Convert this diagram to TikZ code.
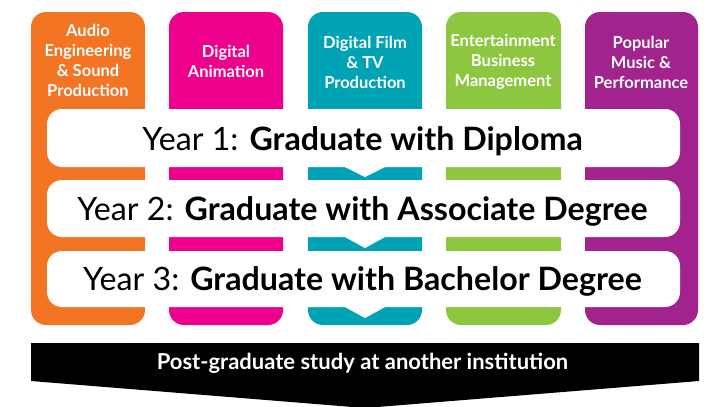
\documentclass[tikz,border=0pt]{standalone}
\usepackage{fontspec}
\setmainfont{Lato}
\definecolor{cOrange}{HTML}{F37423}
\definecolor{cPink}{HTML}{EC008C}
\definecolor{cTeal}{HTML}{00A3B3}
\definecolor{cGreen}{HTML}{8DC63F}
\definecolor{cPurple}{HTML}{A2238E}
\begin{document}
\begin{tikzpicture}[x=1pt,y=-1pt,
  col/.style={rounded corners=15pt},
  bar/.style={fill=white,rounded corners=15pt},
  head/.style={text=white,font=\bfseries\fontsize{16.5}{20}\selectfont,align=center,inner sep=0pt},
  year/.style={text=black,font=\fontsize{32.2}{36}\selectfont,inner sep=0pt,anchor=base},
]
\useasboundingbox (0,0) rectangle (715,407);
% columns
\fill[col,cOrange] (31,12) rectangle (145,325);
\fill[col,cPink] (169,12) rectangle (283,325);
\fill[col,cTeal] (308,12) rectangle (422,325);
\fill[col,cGreen] (446,12) rectangle (561,325);
\fill[col,cPurple] (585,12) rectangle (698,325);
% headers
\node[head] (h1) at (88,60) {Audio\\Engineering\\\& Sound\\Production};
\node[head] (h2) at (226,61) {Digital\\Animation};
\node[head] (h3) at (365,62) {Digital Film\\\& TV\\Production};
\node[head] (h4) at (503,62) {Entertainment\\Business\\Management};
\node[head] (h5) at (641,62) {Popular\\Music \&\\Performance};
% white bars with chevrons
\fill[bar] (47,109) rectangle (680,167);
\fill[white] (343,166) -- (365,177) -- (387,166) -- cycle;
\fill[bar] (47,180) rectangle (680,237);
\fill[white] (343,236) -- (365,248) -- (387,236) -- cycle;
\fill[bar] (47,251) rectangle (680,307);
\fill[white] (343,306) -- (365,318) -- (387,306) -- cycle;
\node[year] (y1) at (362.5,150.5) {Year 1: \textbf{Graduate with Diploma}};
\node[year] (y2) at (362.5,220.5) {Year 2: \textbf{Graduate with Associate Degree}};
\node[year] (y3) at (362.5,290.5) {Year 3: \textbf{Graduate with Bachelor Degree}};
% bottom arrow
\fill[black] (31,343) -- (699,343) -- (699,381) -- (365,408) -- (31,381) -- cycle;
\node[text=white,font=\bfseries\fontsize{22}{24}\selectfont,inner sep=0pt,anchor=base] (pg) at (362.5,369) {Post-graduate study at another institution};
\end{tikzpicture}
\end{document}
